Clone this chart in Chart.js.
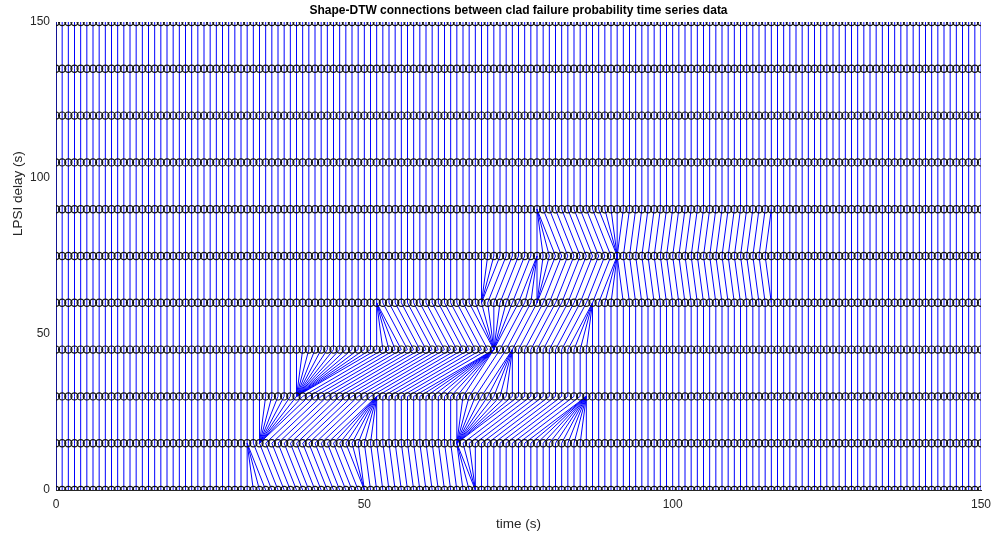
<!DOCTYPE html>
<html>
<head>
<meta charset="utf-8">
<script src="https://cdn.jsdelivr.net/npm/chart.js@4.4.0/dist/chart.umd.min.js"></script>
<style>
  html, body { margin: 0; padding: 0; background: #fff; }
</style>
</head>
<body>
<canvas id="dtw-chart" width="994" height="535"></canvas>
<script>
// sample times of every series (s)
const times = [
  0, 1, 2, 3, 4, 5, 6, 7, 8, 9, 10, 11, 12, 13, 14, 15, 16, 17, 18, 19,
  20, 21, 22, 23, 24, 25, 26, 27, 28, 29, 30, 31, 32, 33, 34, 35, 36, 37, 38, 39,
  40, 41, 42, 43, 44, 45, 46, 47, 48, 49, 50, 51, 52, 53, 54, 55, 56, 57, 58, 59,
  60, 61, 62, 63, 64, 65, 66, 67, 68, 69, 70, 71, 72, 73, 74, 75, 76, 77, 78, 79,
  80, 81, 82, 83, 84, 85, 86, 87, 88, 89, 90, 91, 92, 93, 94, 95, 96, 97, 98, 99,
  100, 101, 102, 103, 104, 105, 106, 107, 108, 109, 110, 111, 112, 113, 114, 115, 116, 117, 118, 119,
  120, 121, 122, 123, 124, 125, 126, 127, 128, 129, 130, 131, 132, 133, 134, 135, 136, 137, 138, 139,
  140, 141, 142, 143, 144, 145, 146, 147, 148, 149, 150
];

// LPSI delay of each series (s), one row of circles per delay
const delays = [0, 15, 30, 45, 60, 75, 90, 105, 120, 135, 150];

const xTicks = [0, 50, 100, 150];
const yTicks = [0, 50, 100, 150];

// warping paths between neighbouring rows, as corner pairs [lower index, upper index]
// (runs between corners are diagonal or one-to-many)
const warp0to15 = [[0, 0], [31, 31], [34, 31], [50, 47], [50, 49], [66, 65], [68, 65], [68, 68], [150, 150]];
const warp15to30 = [[0, 0], [33, 33], [33, 41], [44, 52], [52, 52], [65, 65], [65, 75], [76, 86], [86, 86], [150, 150]];
const warp30to45 = [[0, 0], [39, 39], [39, 52], [58, 71], [66, 71], [69, 74], [74, 74], [150, 150]];
const warp45to60 = [[0, 0], [52, 52], [56, 52], [71, 67], [71, 75], [83, 87], [87, 87], [150, 150]];
const warp60to75 = [[0, 0], [69, 69], [69, 72], [75, 78], [78, 78], [78, 81], [88, 91], [92, 91], [116, 115], [116, 116], [150, 150]];
const warp75to90 = [[0, 0], [78, 78], [81, 78], [91, 88], [91, 92], [115, 116], [116, 116], [150, 150]];
const warp90to105 = [[0, 0], [150, 150]];
const warp105to120 = [[0, 0], [150, 150]];
const warp120to135 = [[0, 0], [150, 150]];
const warp135to150 = [[0, 0], [150, 150]];

const warpPaths = [warp0to15, warp15to30, warp30to45, warp45to60, warp60to75,
                   warp75to90, warp90to105, warp105to120, warp120to135, warp135to150];

const yLabel = 'LPSI delay (s)';

// turn corner list into the full list of matched index pairs
function expandWarp(corners) {
    const pairs = [corners[0]];
    for (let k = 0; k < corners.length - 1; k++) {
        const [a0, b0] = corners[k];
        const [a1, b1] = corners[k + 1];
        const steps = Math.max(a1 - a0, b1 - b0);
        for (let s = 1; s <= steps; s++) {
            pairs.push([a0 + (a1 > a0 ? s : 0), b0 + (b1 > b0 ? s : 0)]);
        }
    }
    return pairs;
}

const datasets = [];

// connection lines, one dataset per pair of rows, broken with nulls
warpPaths.forEach((corners, g) => {
    const data = [];
    expandWarp(corners).forEach(([i, j]) => {
        data.push({ x: times[i], y: delays[g] });
        data.push({ x: times[j], y: delays[g + 1] });
        data.push({ x: times[j], y: null });
    });
    datasets.push({
        data: data,
        showLine: true,
        spanGaps: false,
        borderColor: 'rgb(0, 0, 255)',
        borderWidth: 1,
        pointRadius: 0,
        order: 2
    });
});

// open black circles for every sample
delays.forEach((d) => {
    datasets.push({
        data: times.map(t => ({ x: t, y: d })),
        showLine: false,
        pointStyle: 'circle',
        pointRadius: 3.6,
        pointBorderWidth: 1.2,
        pointBorderColor: '#111',
        pointBackgroundColor: 'rgba(0, 0, 0, 0)',
        order: 1
    });
});

const fontFamily = '"Liberation Sans", Arial, Helvetica, sans-serif';

// center the title over the plot box, like matlab does
const titleOverPlot = {
    id: 'titleOverPlot',
    afterLayout(chart) {
        const t = chart.titleBlock;
        if (t) {
            t.left = chart.chartArea.left;
            t.right = chart.chartArea.right;
        }
    }
};

// y label sits a bit above the middle of the axis in the original figure
const yLabelPlugin = {
    id: 'yLabelPlugin',
    afterDraw(chart) {
        const ctx = chart.ctx;
        const y = chart.scales.y.getPixelForValue(95);
        ctx.save();
        ctx.translate(18, y);
        ctx.rotate(-Math.PI / 2);
        ctx.font = '13.5px ' + fontFamily;
        ctx.fillStyle = '#262626';
        ctx.textAlign = 'center';
        ctx.textBaseline = 'middle';
        ctx.fillText(yLabel, 0, 0);
        ctx.restore();
    }
};

new Chart(document.getElementById('dtw-chart'), {
    type: 'scatter',
    data: { datasets: datasets },
    plugins: [titleOverPlot, yLabelPlugin],
    options: {
        responsive: false,
        animation: false,
        devicePixelRatio: 1,
        events: [],
        layout: { padding: { left: 0, right: 13, top: 0, bottom: 0 } },
        plugins: {
            legend: { display: false },
            tooltip: { enabled: false },
            title: {
                display: true,
                text: 'Shape-DTW connections between clad failure probability time series data',
                color: '#000',
                font: { family: fontFamily, size: 12, weight: 'bold' },
                padding: { top: 3, bottom: 4.6 }
            }
        },
        scales: {
            x: {
                type: 'linear',
                min: 0,
                max: 150,
                afterFit: (scale) => {
                    scale.height = 45;
                    scale.paddingLeft = 0;
                    scale.paddingRight = 0;
                },
                afterBuildTicks: (axis) => { axis.ticks = xTicks.map(v => ({ value: v })); },
                grid: { display: false, drawTicks: false },
                border: { display: true, color: '#262626', width: 1 },
                ticks: {
                    color: '#262626',
                    padding: 7,
                    maxRotation: 0,
                    font: { family: fontFamily, size: 12 }
                },
                title: {
                    display: true,
                    text: 'time (s)',
                    color: '#262626',
                    font: { family: fontFamily, size: 13.5 },
                    padding: { top: 0, bottom: 3 }
                }
            },
            y: {
                type: 'linear',
                min: 0,
                max: 150,
                afterFit: (scale) => {
                    scale.width = 56;
                    scale.paddingTop = 0;
                    scale.paddingBottom = 0;
                },
                afterBuildTicks: (axis) => { axis.ticks = yTicks.map(v => ({ value: v })); },
                grid: { display: false, drawTicks: false },
                border: { display: true, color: '#262626', width: 1 },
                ticks: {
                    color: '#262626',
                    padding: 6,
                    font: { family: fontFamily, size: 12 }
                },
                title: { display: false }
            }
        }
    }
});
</script>
</body>
</html>
